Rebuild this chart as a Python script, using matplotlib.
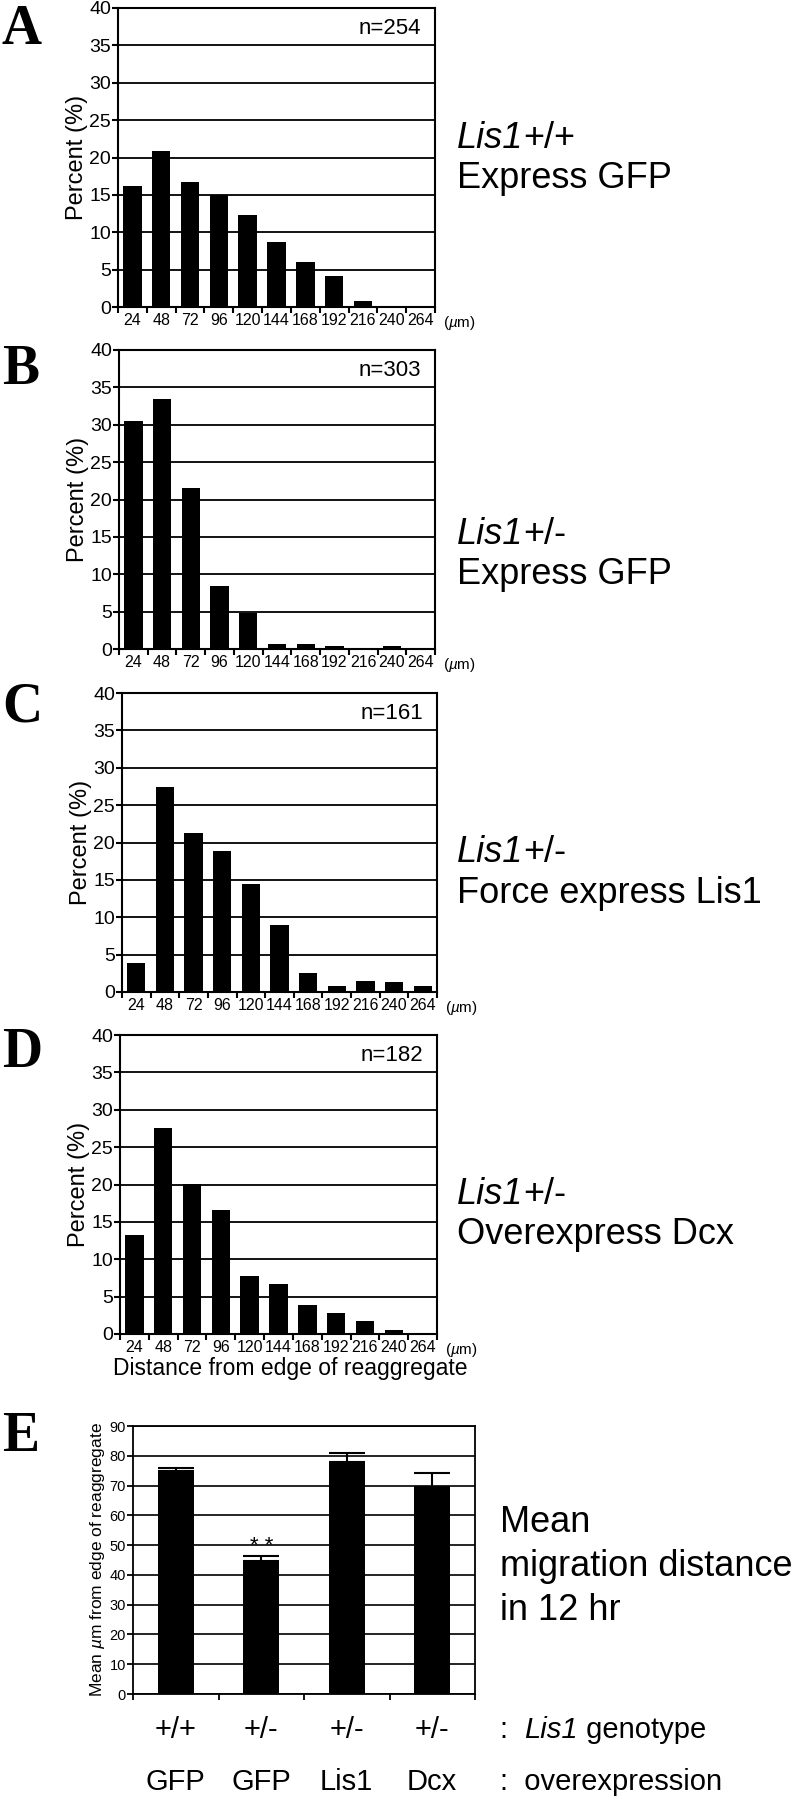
import matplotlib
matplotlib.use("Agg")
import matplotlib.pyplot as plt

plt.rcParams["font.family"] = ["Liberation Sans", "DejaVu Sans"]
plt.rcParams["mathtext.fontset"] = "custom"
plt.rcParams["mathtext.rm"] = "Liberation Sans"
plt.rcParams["mathtext.it"] = "Liberation Sans:italic"

# distance bins (um) shared by panels A-D
bins = ["24", "48", "72", "96", "120", "144", "168", "192", "216", "240", "264"]

# percent of cells per bin
pct_A = [16.2, 20.9, 16.7, 15.0, 12.3, 8.7, 6.0, 4.1, 0.85, 0, 0]
pct_B = [30.5, 33.5, 21.6, 8.4, 4.8, 0.7, 0.7, 0.35, 0, 0.35, 0]
pct_C = [3.9, 27.4, 21.3, 18.8, 14.4, 8.9, 2.5, 0.75, 1.5, 1.35, 0.75]
pct_D = [13.2, 27.6, 20.1, 16.6, 7.8, 6.65, 3.9, 2.8, 1.8, 0.55, 0]

n_labels = ["n=254", "n=303", "n=161", "n=182"]
panel_letters = ["A", "B", "C", "D"]
genos = ["+/+", "+/-", "+/-", "+/-"]
cond_line2 = ["Express GFP", "Express GFP", "Force express Lis1", "Overexpress Dcx"]

# panel E: mean migration distance with upper error
genotype = ["+/+", "+/-", "+/-", "+/-"]
overexp = ["GFP", "GFP", "Lis1", "Dcx"]
mean_dist = [74.8, 44.7, 77.9, 69.6]
err_dist = [1.1, 1.6, 3.2, 4.6]

W, H = 798, 1800
fig = plt.figure(figsize=(W / 100, H / 100), dpi=100)
renderer = fig.canvas.get_renderer()


def px_axes(l, t, r, b):
    return fig.add_axes([l / W, 1 - b / H, (r - l) / W, (b - t) / H])


def fig_text(x, y, s, **kw):
    return fig.text(x / W, 1 - y / H, s, **kw)


def rich_text(x, y, parts, size):
    # parts: list of (string, style) drawn one after another
    cur = x
    for s, style in parts:
        t = fig_text(cur, y, s, fontsize=size, fontstyle=style, ha="left", va="center")
        cur = t.get_window_extent(renderer=renderer).x1


# pixel boxes of the histogram axes (left, top, right, bottom)
boxes = [(118, 8, 435, 307), (119, 350, 435, 649), (122, 693, 437, 992), (120, 1035, 437, 1334)]
letter_y = [30, 370, 707, 1053]
cond_y = [(138, 178), (535, 575), (852, 893), (1195, 1235)]
data = [pct_A, pct_B, pct_C, pct_D]

for i in range(4):
    ax = px_axes(*boxes[i])
    x = range(len(bins))
    ax.bar(x, data[i], width=0.64, color="black", zorder=3)
    ax.set_xlim(-0.5, len(bins) - 0.5)
    ax.set_ylim(0, 40)
    ax.set_yticks(range(0, 41, 5))
    ax.yaxis.grid(True, color="black", linewidth=1.3)
    ax.set_axisbelow(True)
    ax.set_xticks([k - 0.5 for k in range(len(bins) + 1)])
    ax.set_xticklabels([])
    ax.set_xticks(list(x), minor=True)
    ax.set_xticklabels(bins, minor=True, fontsize=11.5)
    ax.tick_params(axis="x", which="minor", length=0, pad=4)
    ax.tick_params(axis="x", which="major", length=4, width=1.5, direction="out")
    ax.tick_params(axis="y", length=4, width=1.5, labelsize=14, pad=1)
    for sp in ax.spines.values():
        sp.set_linewidth(1.5)
    ax.set_ylabel("Percent (%)", fontsize=17, labelpad=1)
    ax.text(0.955, 0.93, n_labels[i], transform=ax.transAxes, ha="right", va="center", fontsize=16)
    ax.text(1.025, -0.052, "($\\mathit{\u00b5}$m)", transform=ax.transAxes, ha="left", va="center",
            fontsize=11)

    fig_text(2, letter_y[i], panel_letters[i], family="Liberation Serif", fontweight="bold",
             fontsize=40, va="center", ha="left")
    rich_text(457, cond_y[i][0], [("Lis1", "italic"), (genos[i], "normal")], 26)
    fig_text(457, cond_y[i][1], cond_line2[i], fontsize=26, va="center", ha="left")

fig_text(113, 1368, "Distance from edge of reaggregate", fontsize=16.5, ha="left", va="center")

# panel E
axE = px_axes(133, 1426, 475, 1694)
xe = range(len(mean_dist))
axE.bar(xe, mean_dist, width=0.42, color="black", zorder=3)
axE.errorbar(xe, mean_dist, yerr=[[0] * len(err_dist), err_dist], fmt="none", ecolor="black",
             elinewidth=1.5, capsize=13, capthick=1.5, zorder=4)
axE.set_xlim(-0.5, len(mean_dist) - 0.5)
axE.set_ylim(0, 90)
axE.set_yticks(range(0, 91, 10))
axE.yaxis.grid(True, color="black", linewidth=1.2)
axE.set_axisbelow(True)
axE.set_xticks([k - 0.5 for k in range(len(mean_dist) + 1)])
axE.set_xticklabels([])
axE.tick_params(axis="x", length=4, width=1.3, direction="out")
axE.tick_params(axis="y", length=4, width=1.3, labelsize=10.5, pad=1)
for sp in axE.spines.values():
    sp.set_linewidth(1.3)
axE.set_ylabel("Mean $\\mathit{\u00b5}$m from edge of reaggregate", fontsize=12.5, labelpad=2)
axE.text(1, mean_dist[1] + 4.7, "* *", ha="center", va="center", fontsize=16)

fig_text(2, 1437, "E", family="Liberation Serif", fontweight="bold", fontsize=40, va="center", ha="left")
bar_px = [133 + (k + 0.5) * (475 - 133) / 4 for k in range(4)]
for k in range(4):
    fig_text(bar_px[k], 1730, genotype[k], fontsize=21, ha="center", va="center")
    fig_text(bar_px[k], 1782, overexp[k], fontsize=21, ha="center", va="center")
rich_text(500, 1730, [(":  ", "normal"), ("Lis1", "italic"), (" genotype", "normal")], 21)
fig_text(500, 1782, ":  overexpression", fontsize=21, ha="left", va="center")
fig_text(500, 1523, "Mean", fontsize=26, ha="left", va="center")
fig_text(500, 1567, "migration distance", fontsize=26, ha="left", va="center")
fig_text(500, 1610, "in 12 hr", fontsize=26, ha="left", va="center")

fig.savefig("out.png", dpi=100)
